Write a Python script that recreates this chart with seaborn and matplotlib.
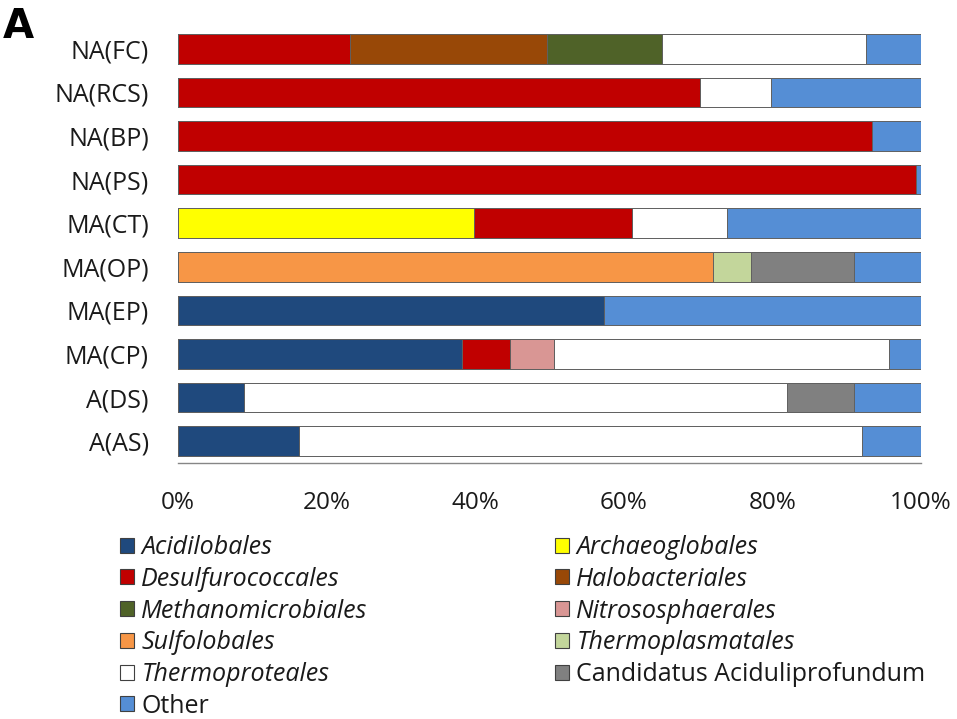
import matplotlib
matplotlib.use("Agg")
import matplotlib.pyplot as plt
import seaborn as sns
import numpy as np
import pandas as pd
from matplotlib.patches import Patch

samples = ["NA(FC)", "NA(RCS)", "NA(BP)", "NA(PS)", "MA(CT)", "MA(OP)",
           "MA(EP)", "MA(CP)", "A(DS)", "A(AS)"]

# percent values per order, in sample order above
acidilobales       = [0, 0, 0, 0, 0, 0, 57.4, 38.2, 8.9, 16.3]
archaeoglobales    = [0, 0, 0, 0, 39.9, 0, 0, 0, 0, 0]
desulfurococcales  = [23.1, 70.2, 93.4, 99.3, 21.2, 0, 0, 6.5, 0, 0]
halobacteriales    = [26.6, 0, 0, 0, 0, 0, 0, 0, 0, 0]
methanomicrobiales = [15.5, 0, 0, 0, 0, 0, 0, 0, 0, 0]
nitrososphaerales  = [0, 0, 0, 0, 0, 0, 0, 5.9, 0, 0]
sulfolobales       = [0, 0, 0, 0, 0, 72.0, 0, 0, 0, 0]
thermoplasmatales  = [0, 0, 0, 0, 0, 5.1, 0, 0, 0, 0]
thermoproteales    = [27.4, 9.6, 0, 0, 12.8, 0, 0, 45.1, 73.0, 75.7]
candidatus         = [0, 0, 0, 0, 0, 13.9, 0, 0, 9.1, 0]
other              = [7.4, 20.2, 6.6, 0.7, 26.1, 9.0, 42.6, 4.3, 9.0, 8.0]

series = [
    ("Acidilobales", acidilobales, "#1F497D", True),
    ("Archaeoglobales", archaeoglobales, "#FFFF00", True),
    ("Desulfurococcales", desulfurococcales, "#C00000", True),
    ("Halobacteriales", halobacteriales, "#984807", True),
    ("Methanomicrobiales", methanomicrobiales, "#4F6228", True),
    ("Nitrososphaerales", nitrososphaerales, "#D99694", True),
    ("Sulfolobales", sulfolobales, "#F79646", True),
    ("Thermoplasmatales", thermoplasmatales, "#C3D69B", True),
    ("Thermoproteales", thermoproteales, "#FFFFFF", True),
    ("Candidatus Aciduliprofundum", candidatus, "#808080", False),
    ("Other", other, "#558ED5", False),
]

sns.set_theme(style="white")
plt.rcParams["font.family"] = ["Open Sans", "DejaVu Sans"]

fig = plt.figure(figsize=(9.57, 7.19), dpi=100)
ax = fig.add_axes([178 / 957, 1 - 463 / 719, 743 / 957, 436 / 719])

vals = np.array([s[1] for s in series], dtype=float)
cum = np.cumsum(vals, axis=0)

# draw from the largest cumulative to smallest so each segment shows
for i in range(len(series) - 1, -1, -1):
    name, _, col, _ = series[i]
    df = pd.DataFrame({"sample": samples, "value": cum[i]})
    sns.barplot(data=df, x="value", y="sample", order=samples, orient="h",
                color=col, saturation=1, width=0.68, edgecolor="#606060",
                linewidth=0.7, ax=ax)

ax.set_xlim(0, 100)
ax.set_xticks([0, 20, 40, 60, 80, 100])
ax.set_xticklabels(["0%", "20%", "40%", "60%", "80%", "100%"])
ax.set_xlabel("")
ax.set_ylabel("")
for s in ["top", "right", "left"]:
    ax.spines[s].set_visible(False)
ax.spines["bottom"].set_color("#868686")
ax.spines["bottom"].set_linewidth(1.0)
ax.tick_params(axis="x", direction="out", length=7, width=1.0, color="#868686",
               labelsize=17.5, pad=13, labelcolor="#1a1a1a")
ax.tick_params(axis="y", length=0, labelsize=18, pad=21, labelcolor="#1a1a1a")
ax.grid(False)

fig.text(3 / 957, 1 - 7 / 719, "A", fontsize=29, fontweight="bold",
         family="DejaVu Sans", va="top", ha="left", color="black")

def make_handles(items):
    hs = []
    for name, _, col, _ in items:
        hs.append(Patch(facecolor=col, edgecolor="#404040", linewidth=0.8, label=name))
    return hs

col1 = [series[i] for i in [0, 2, 4, 6, 8, 10]]
col2 = [series[i] for i in [1, 3, 5, 7, 9]]

common = dict(frameon=False, fontsize=18, handlelength=0.55, handleheight=0.55,
              handletextpad=0.3, labelspacing=0.27, borderpad=0, borderaxespad=0,
              loc="upper left")
leg1 = fig.legend(handles=make_handles(col1), bbox_to_anchor=(120 / 957, 1 - 535 / 719),
                  **common)
leg2 = fig.legend(handles=make_handles(col2), bbox_to_anchor=(555 / 957, 1 - 535 / 719),
                  **common)
for leg, items in [(leg1, col1), (leg2, col2)]:
    for t, it in zip(leg.get_texts(), items):
        t.set_color("#1a1a1a")
        if it[3]:
            t.set_style("italic")

fig.savefig("out.png", dpi=100)
